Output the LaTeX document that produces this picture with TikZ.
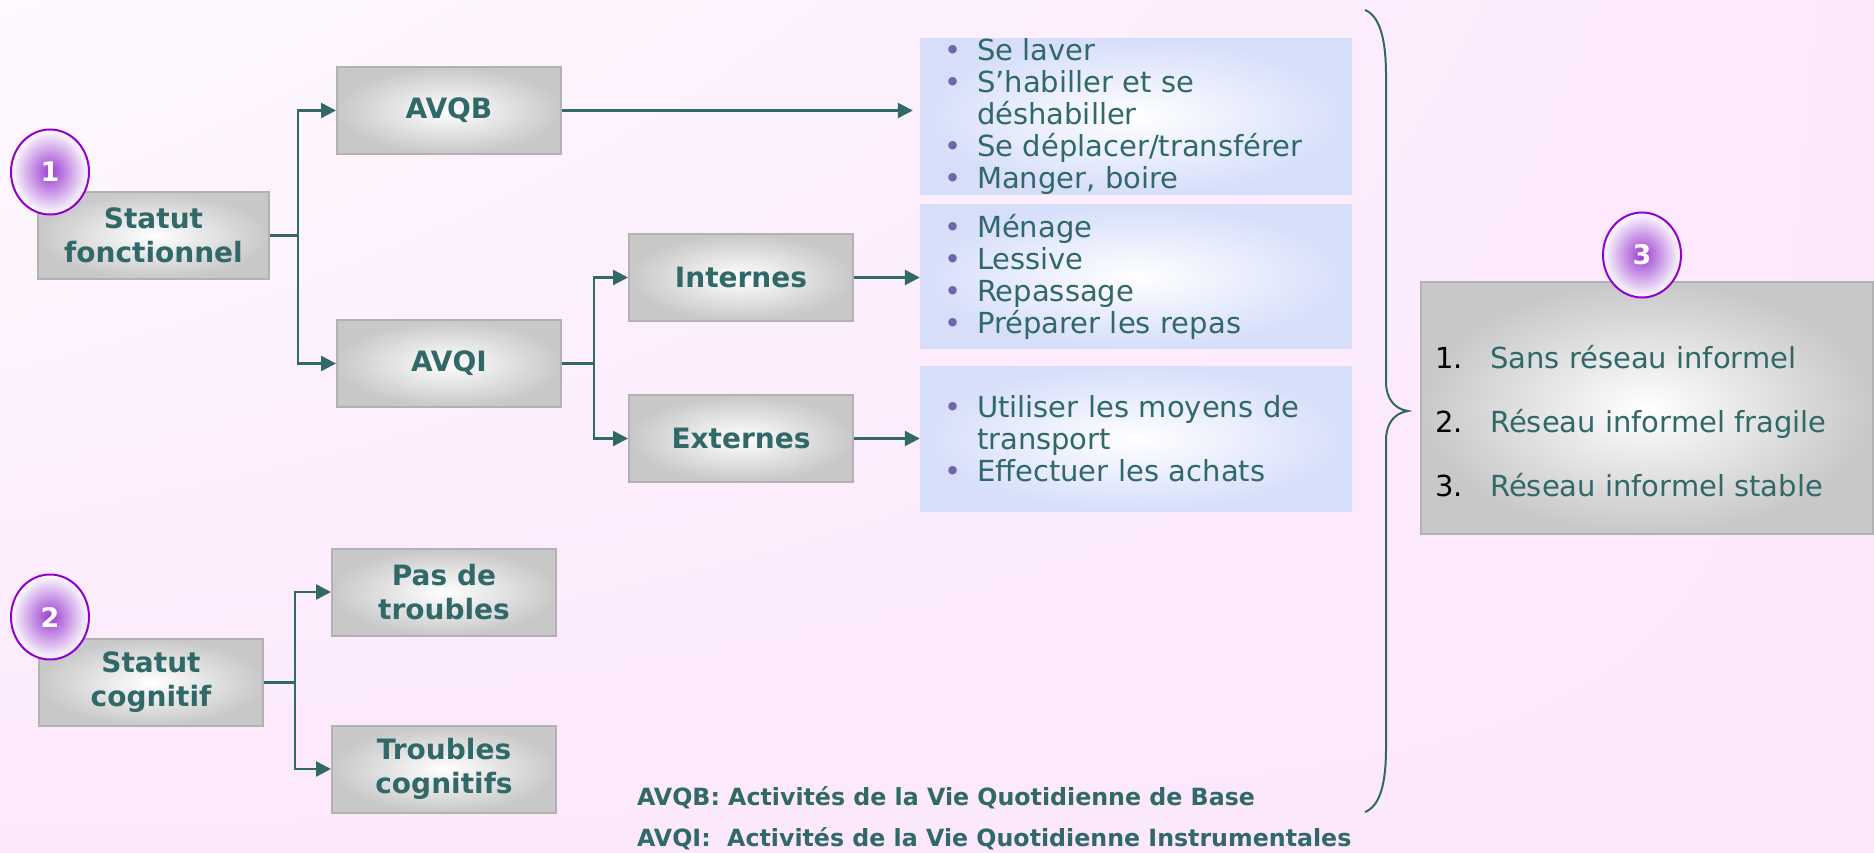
\documentclass[tikz,border=0pt]{standalone}
\usepackage{fontspec}
\setmainfont{DejaVu Sans}
\usepackage{tikz}
\usetikzlibrary{arrows.meta,shapes.geometric,shadings,calc}
\definecolor{tealtxt}{HTML}{316868}
\definecolor{boxedge}{HTML}{B2B2B2}
\definecolor{boxgray}{HTML}{C8C8C8}
\definecolor{listblue}{HTML}{D6DEFA}
\definecolor{badgeline}{HTML}{9300CC}
\definecolor{badgein}{HTML}{9A3CD0}
\definecolor{bulletcol}{HTML}{6E66A8}
\definecolor{bgl}{HTML}{FEF9FE}
\definecolor{bgr}{HTML}{FCE8FC}
\newcommand\lblfont{\fontsize{28}{34}\selectfont\bfseries}
\newcommand\itmfont{\fontsize{29}{32}\selectfont}
\newcommand\bul{\makebox[33pt][l]{\textcolor{bulletcol}{•}}}
\newcommand\numlab[1]{\makebox[55pt][l]{\textcolor{black}{#1}}}
\tikzset{graybox/.style={draw=boxedge, line width=2pt, inner color=white, outer color=boxgray, text=tealtxt, font=\lblfont, align=center, minimum width=224pt, minimum height=87pt}}
\tikzset{listbox/.style={inner color=white, outer color=listblue, text=tealtxt, font=\itmfont, align=left, text width=384pt, inner xsep=24pt, inner ysep=0pt}}
\tikzset{badge/.style={ellipse, draw=badgeline, line width=2pt, inner color=badgein, outer color=white, text=white, font=\fontsize{27}{27}\selectfont\bfseries, minimum width=78pt, minimum height=85pt}}
\tikzset{link/.style={draw=tealtxt, line width=2.5pt}}
\tikzset{arr/.style={link, -{Triangle[length=15pt,width=15pt]}}}
\tikzset{note/.style={anchor=west, text=tealtxt, font=\fontsize{23.7}{26}\selectfont\bfseries, inner sep=0pt}}

\begin{document}
\begin{tikzpicture}[x=1pt, y=-1pt]
  \shade[upper left=bgl, upper right=bgr, lower left=bgr, lower right=bgr] (0,0) rectangle (1874,853);
  \useasboundingbox (0,0) rectangle (1874,853);

  \node (sf) at (153.5,235.5)[graybox, minimum width=231pt]{Statut\\fonctionnel};
  \node (avqb) at (449,110.5)[graybox]{AVQB};
  \node (avqi) at (449,363.5)[graybox]{AVQI};
  \node (int) at (741,277.5)[graybox]{Internes};
  \node (ext) at (741,438.5)[graybox]{Externes};
  \node (sc) at (151,682.5)[graybox]{Statut\\cognitif};
  \node (pas) at (444,592)[graybox]{Pas de\\troubles};
  \node (trb) at (444,769)[graybox]{Troubles\\cognitifs};

  \node (lista) at (1136,116.5)[listbox, minimum height=153pt]{\bul Se laver\\ \bul S’habiller et se\\ \hspace*{33pt}déshabiller\\ \bul Se déplacer/transférer\\ \bul Manger, boire};
  \node (listb) at (1136,276.5)[listbox, minimum height=143pt]{\bul Ménage\\ \bul Lessive\\ \bul Repassage\\ \bul Préparer les repas};
  \node (listc) at (1136,438.5)[listbox, minimum height=145pt]{\bul Utiliser les moyens de\\ \hspace*{33pt}transport\\ \bul Effectuer les achats};

  \node (reseau) at (1647,408)[graybox, minimum width=452pt, minimum height=252pt]{};
  \node (reseaulist) at (1435,421)[anchor=west, align=left, text=tealtxt, font=\fontsize{29}{64}\selectfont, inner sep=0pt]{\numlab{1.}Sans réseau informel\\ \numlab{2.}Réseau informel fragile\\ \numlab{3.}Réseau informel stable};

  \node (b1) at (50,172)[badge]{1};
  \node (b2) at (50,617)[badge]{2};
  \node (b3) at (1642,255)[badge]{3};

  \coordinate (j1) at (298,235.5);
  \coordinate (j2) at (594,363.5);
  \coordinate (j3) at (295,682.5);
  \draw[link] (sf.east) -- (j1);
  \draw[arr] (j1) |- (avqb.west);
  \draw[arr] (j1) |- (avqi.west);
  \draw[arr, shorten >=7pt] (avqb.east) -- (avqb.east -| lista.west);
  \draw[link] (avqi.east) -- (j2);
  \draw[arr] (j2) |- (int.west);
  \draw[arr] (j2) |- (ext.west);
  \draw[arr] (int.east) -- (int.east -| listb.west);
  \draw[arr] (ext.east) -- (ext.east -| listc.west);
  \draw[link] (sc.east) -- (j3);
  \draw[arr] (j3) |- (pas.west);
  \draw[arr] (j3) |- (trb.west);

  % accolade
  \draw[draw=tealtxt, line width=2pt] (1365,10) .. controls (1380,16) and (1386,40) .. (1386,75) -- (1386,382) .. controls (1386,398) and (1394,409) .. (1408,411) .. controls (1394,413) and (1386,424) .. (1386,440) -- (1386,748) .. controls (1386,784) and (1380,806) .. (1365,812);

  \node (fna) at (637,798)[note]{AVQB: Activités de la Vie Quotidienne de Base};
  \node (fnb) at (637,839)[note]{AVQI:\ \ Activités de la Vie Quotidienne Instrumentales};
\end{tikzpicture}
\end{document}
